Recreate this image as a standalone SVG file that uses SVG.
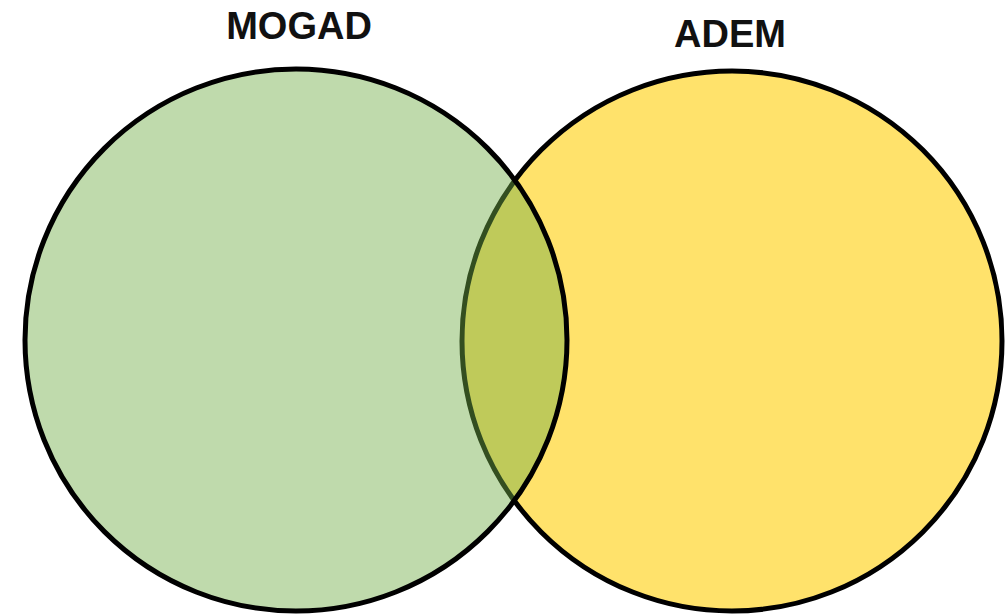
<svg xmlns="http://www.w3.org/2000/svg" width="1005" height="615" viewBox="0 0 1005 615">
  <style>
    .set { stroke: #000; stroke-width: 5; }
    .label { font-family: "Liberation Sans", Arial, sans-serif; font-weight: bold; font-size: 38px; fill: #111; text-anchor: middle; }
  </style>
  <rect width="1005" height="615" fill="#fff"/>
  <g id="adem">
    <circle class="set" cx="732" cy="341" r="270" fill="#FFE26B"/>
    <text class="label" x="730" y="47">ADEM</text>
  </g>
  <g id="mogad">
    <circle class="set" cx="296" cy="340" r="271" fill="#70AD47" fill-opacity="0.45"/>
    <text class="label" x="299" y="39">MOGAD</text>
  </g>
</svg>
